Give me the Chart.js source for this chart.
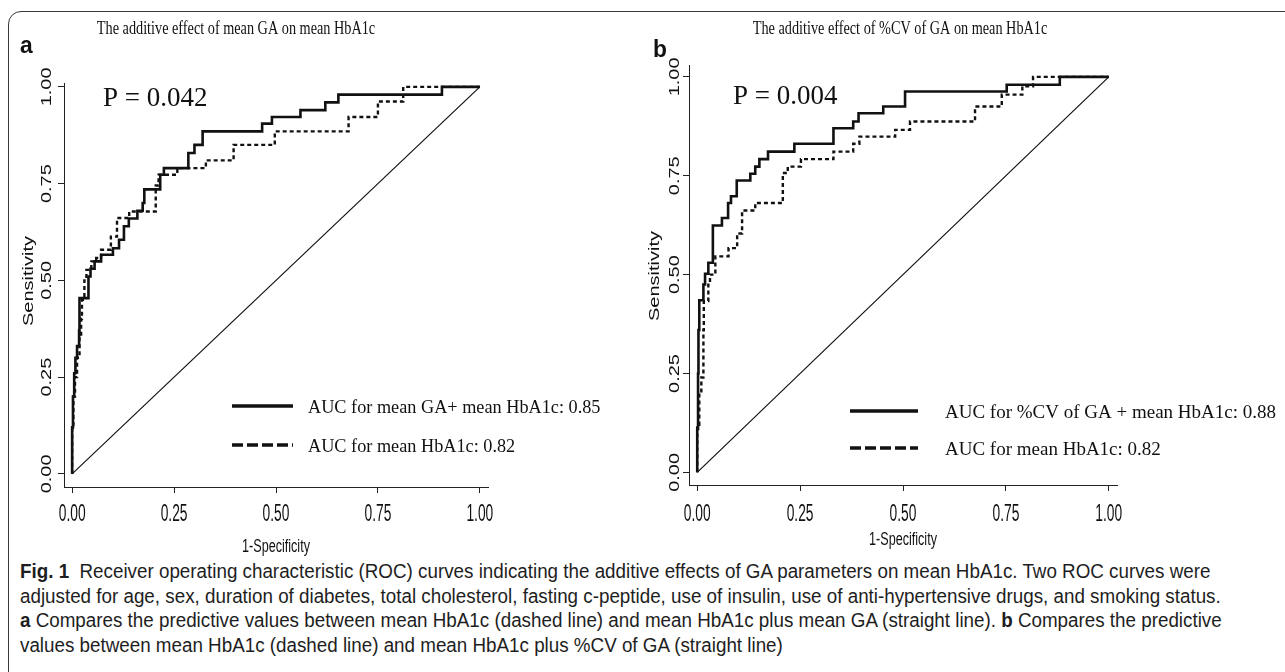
<!DOCTYPE html>
<html>
<head>
<meta charset="utf-8">
<script src="https://cdn.jsdelivr.net/npm/chart.js@4.4.1/dist/chart.umd.min.js"></script>
<style>
  body { margin: 0; background: #fff; width: 1285px; height: 672px; overflow: hidden; position: relative; font-family: "Liberation Sans", Arial, sans-serif; }
  .frame { position: absolute; left: 8px; top: 11px; width: 1400px; height: 800px; border: 1.3px solid #3a3a3a; border-radius: 13px; }
  #cA { position: absolute; left: 0; top: 0; }
  #cB { position: absolute; left: 640px; top: 0; }
  .cap { position: absolute; left: 20px; white-space: nowrap; font-size: 20px; line-height: 22px; color: #1e1e1e; transform-origin: 0 50%; }
  .cap b { font-weight: bold; }
</style>
</head>
<body>
<div class="frame"></div>
<canvas id="cA" width="640" height="560"></canvas>
<canvas id="cB" width="645" height="560"></canvas>

<div class="cap" style="top:560px"><b>Fig. 1</b>&nbsp; Receiver operating characteristic (ROC) curves indicating the additive effects of GA parameters on mean HbA1c. Two ROC curves were</div>
<div class="cap" style="top:585px">adjusted for age, sex, duration of diabetes, total cholesterol, fasting c-peptide, use of insulin, use of anti-hypertensive drugs, and smoking status.</div>
<div class="cap" style="top:609px"><b>a</b> Compares the predictive values between mean HbA1c (dashed line) and mean HbA1c plus mean GA (straight line). <b>b</b> Compares the predictive</div>
<div class="cap" style="top:634px">values between mean HbA1c (dashed line) and mean HbA1c plus %CV of GA (straight line)</div>

<script>
// axes
const xTicks = [0, 0.25, 0.5, 0.75, 1];
const yTicks = [0, 0.25, 0.5, 0.75, 1];
const tickText = ['0.00', '0.25', '0.50', '0.75', '1.00'];
const refX = [0, 1];
const refY = [0, 1];

// panel a: mean GA + mean HbA1c (solid) vs mean HbA1c (dashed)
const aBothX = [0, 0, 0.002, 0.005, 0.008, 0.012, 0.017, 0.018, 0.04, 0.045, 0.055, 0.071, 0.1, 0.115, 0.127, 0.139, 0.16, 0.173, 0.177, 0.216, 0.225, 0.285, 0.3, 0.32, 0.466, 0.49, 0.56, 0.621, 0.653, 0.907, 1];
const aBothY = [0, 0.12, 0.2, 0.26, 0.3, 0.33, 0.37, 0.454, 0.51, 0.53, 0.549, 0.566, 0.583, 0.605, 0.64, 0.66, 0.68, 0.70, 0.735, 0.773, 0.79, 0.829, 0.85, 0.885, 0.905, 0.922, 0.94, 0.96, 0.98, 1, 1];
const aHbX = [0, 0, 0.003, 0.007, 0.012, 0.018, 0.022, 0.024, 0.03, 0.035, 0.047, 0.059, 0.071, 0.095, 0.11, 0.14, 0.205, 0.212, 0.258, 0.328, 0.396, 0.497, 0.678, 0.75, 0.812, 1];
const aHbY = [0, 0.12, 0.2, 0.25, 0.3, 0.35, 0.4, 0.45, 0.5, 0.527, 0.549, 0.558, 0.579, 0.613, 0.661, 0.678, 0.745, 0.773, 0.79, 0.81, 0.85, 0.885, 0.922, 0.962, 1, 1];

// panel b: %CV of GA + mean HbA1c (solid) vs mean HbA1c (dashed)
const bBothX = [0, 0, 0.002, 0.003, 0.005, 0.015, 0.019, 0.027, 0.038, 0.06, 0.075, 0.082, 0.096, 0.129, 0.141, 0.151, 0.172, 0.236, 0.331, 0.379, 0.392, 0.452, 0.505, 0.752, 0.881, 1];
const bBothY = [0, 0.11, 0.25, 0.36, 0.435, 0.475, 0.502, 0.53, 0.624, 0.643, 0.681, 0.698, 0.738, 0.755, 0.773, 0.792, 0.811, 0.831, 0.87, 0.887, 0.908, 0.925, 0.963, 0.98, 1, 1];
const bHbX = [0, 0, 0.005, 0.01, 0.015, 0.016, 0.027, 0.031, 0.044, 0.076, 0.097, 0.109, 0.141, 0.208, 0.22, 0.252, 0.331, 0.379, 0.394, 0.481, 0.517, 0.675, 0.74, 0.79, 0.816, 1];
const bHbY = [0, 0.12, 0.2, 0.24, 0.36, 0.433, 0.479, 0.5, 0.546, 0.567, 0.604, 0.662, 0.681, 0.757, 0.773, 0.792, 0.811, 0.831, 0.849, 0.866, 0.887, 0.925, 0.955, 0.976, 1, 1];

const pts = (xs, ys) => xs.map((x, i) => ({ x: x, y: ys[i] }));

// text squeezed horizontally, the figure was stored narrower than drawn
function squeeze(ctx, str, x, y, font, sx, align) {
  ctx.save();
  ctx.font = font;
  ctx.fillStyle = '#111';
  ctx.textAlign = align || 'left';
  ctx.textBaseline = 'alphabetic';
  ctx.translate(x, y);
  ctx.scale(sx, 1);
  ctx.fillText(str, 0, 0);
  ctx.restore();
}

function squeezeUp(ctx, str, x, y, font, sx) {
  ctx.save();
  ctx.font = font;
  ctx.fillStyle = '#111';
  ctx.textAlign = 'center';
  ctx.textBaseline = 'middle';
  ctx.translate(x, y);
  ctx.rotate(-Math.PI / 2);
  ctx.scale(1, sx);
  ctx.fillText(str, 0, 0);
  ctx.restore();
}

const figText = {
  id: 'figText',
  afterDraw(chart, args, o) {
    const ctx = chart.ctx;
    const xs = chart.scales.x, ys = chart.scales.y;
    const serif = '"Liberation Serif", "Times New Roman", serif';
    const sans = '"Liberation Sans", Arial, sans-serif';

    squeeze(ctx, o.title, o.titleX, 34, '19px ' + serif, 0.75, 'center');
    squeeze(ctx, o.letter, o.letterX, o.letterY, 'bold 24px ' + sans, 0.95);
    squeeze(ctx, o.pText, o.pX, o.pY, '27px ' + serif, 1.0);

    yTicks.forEach((v, i) => squeezeUp(ctx, tickText[i], o.yLabelX, ys.getPixelForValue(v), '20px ' + sans, 0.7));
    squeezeUp(ctx, 'Sensitivity', o.yTitleX, o.yTitleY, '20px ' + sans, 0.7);
    xTicks.forEach((v, i) => squeeze(ctx, tickText[i], xs.getPixelForValue(v), o.xLabelY, '23px ' + sans, 0.6, 'center'));
    squeeze(ctx, '1-Specificity', (xs.left + xs.right) / 2, o.xTitleY, '18px ' + sans, 0.7, 'center');

    // legend
    const lx = o.legendX, ll = o.legendLen;
    ctx.save();
    ctx.strokeStyle = '#111';
    ctx.lineWidth = 3.5;
    ctx.beginPath();
    ctx.moveTo(lx, o.legendY1); ctx.lineTo(lx + ll, o.legendY1);
    ctx.stroke();
    ctx.setLineDash([11, 4]);
    ctx.beginPath();
    ctx.moveTo(lx, o.legendY2); ctx.lineTo(lx + ll, o.legendY2);
    ctx.stroke();
    ctx.restore();
    squeeze(ctx, o.legend1, o.legendTextX, o.legendY1 + 7, '19px ' + serif, o.legendSx);
    squeeze(ctx, o.legend2, o.legendTextX, o.legendY2 + 7, '19px ' + serif, o.legendSx);
  }
};

function rocChart(id, s) {
  const axisLine = { display: true, color: '#222', width: 1 };
  const marks = { drawOnChartArea: false, drawTicks: true, tickLength: 6, color: '#222', lineWidth: 1 };
  return new Chart(document.getElementById(id), {
    type: 'line',
    data: {
      datasets: [
        { data: pts(s.bothX, s.bothY), borderColor: '#111', borderWidth: 2.6, stepped: true, order: 0 },
        { data: pts(s.hbX, s.hbY), borderColor: '#111', borderWidth: 2.4, borderDash: [4, 3], stepped: true, order: 1 },
        { data: pts(refX, refY), borderColor: '#111', borderWidth: 1.2, order: 2 }
      ]
    },
    options: {
      responsive: false,
      animation: false,
      events: [],
      elements: { point: { radius: 0 } },
      layout: { padding: s.pad },
      scales: {
        x: {
          type: 'linear', min: -0.02, max: 1.02,
          afterBuildTicks: ax => { ax.ticks = xTicks.map(v => ({ value: v })); },
          afterFit: ax => { ax.height = s.xH; },
          ticks: { display: false },
          grid: marks, border: axisLine
        },
        y: {
          type: 'linear', min: s.yMin, max: s.yMax,
          afterBuildTicks: ax => { ax.ticks = yTicks.map(v => ({ value: v })); },
          afterFit: ax => { ax.width = s.yW; },
          ticks: { display: false },
          grid: marks, border: axisLine
        }
      },
      plugins: {
        legend: { display: false },
        tooltip: { enabled: false },
        figText: s.text
      }
    },
    plugins: [figText]
  });
}

rocChart('cA', {
  bothX: aBothX, bothY: aBothY, hbX: aHbX, hbY: aHbY,
  pad: { top: 83, right: 152, bottom: 0, left: 0 }, xH: 73, yW: 64,
  yMin: -0.034, yMax: 1.01,
  text: {
    title: 'The additive effect of mean GA on mean HbA1c', titleX: 236,
    letter: 'a', letterX: 20, letterY: 53,
    pText: 'P = 0.042', pX: 103, pY: 106,
    yLabelX: 47, yTitleX: 29, yTitleY: 281, xLabelY: 521, xTitleY: 552,
    legendX: 232, legendLen: 61, legendTextX: 308, legendY1: 406, legendY2: 445, legendSx: 0.96,
    legend1: 'AUC for mean GA+ mean HbA1c: 0.85',
    legend2: 'AUC for mean HbA1c: 0.82'
  }
});

rocChart('cB', {
  bothX: bBothX, bothY: bBothY, hbX: bHbX, hbY: bHbY,
  pad: { top: 65, right: 168, bottom: 0, left: 0 }, xH: 75, yW: 49,
  yMin: -0.032, yMax: 1.03,
  text: {
    title: 'The additive effect of %CV of GA on mean HbA1c', titleX: 260,
    letter: 'b', letterX: 13, letterY: 57,
    pText: 'P = 0.004', pX: 93, pY: 104,
    yLabelX: 35, yTitleX: 15, yTitleY: 276, xLabelY: 521, xTitleY: 545,
    legendX: 210, legendLen: 68, legendTextX: 305, legendY1: 411, legendY2: 448, legendSx: 1.0,
    legend1: 'AUC for %CV of GA + mean HbA1c: 0.88',
    legend2: 'AUC for mean HbA1c: 0.82'
  }
});

// caption: one horizontal squeeze for all lines, taken from the first line's width
const capLines = document.querySelectorAll('.cap');
const capScale = 1190 / capLines[0].offsetWidth;
capLines.forEach(el => { el.style.transform = 'scaleX(' + capScale + ')'; });
</script>
</body>
</html>
